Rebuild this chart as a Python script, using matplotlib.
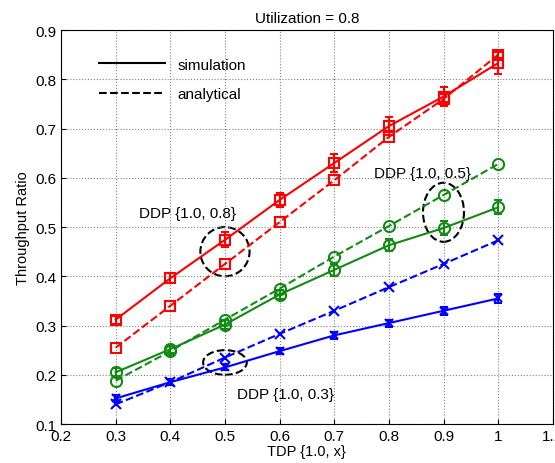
import matplotlib; matplotlib.use('agg')
import matplotlib.pyplot as plt
from matplotlib.patches import Ellipse
from matplotlib.lines import Line2D

plt.rcParams['font.family'] = ['Liberation Sans', 'DejaVu Sans']
plt.rcParams['font.size'] = 10

# Werte
x = [0.3, 0.4, 0.5, 0.6, 0.7, 0.8, 0.9, 1.0]
red_sim = [0.312, 0.396, 0.474, 0.555, 0.630, 0.705, 0.765, 0.833]
red_sim_err = [0.008, 0.010, 0.015, 0.015, 0.018, 0.018, 0.020, 0.022]
red_ana = [0.255, 0.340, 0.425, 0.510, 0.595, 0.683, 0.760, 0.850]
green_sim = [0.205, 0.252, 0.302, 0.363, 0.413, 0.463, 0.498, 0.540]
green_sim_err = [0.008, 0.008, 0.010, 0.010, 0.012, 0.012, 0.014, 0.014]
green_ana = [0.188, 0.248, 0.312, 0.375, 0.440, 0.502, 0.565, 0.628]
blue_sim = [0.152, 0.185, 0.215, 0.248, 0.280, 0.305, 0.330, 0.355]
blue_sim_err = [0.006, 0.006, 0.006, 0.006, 0.007, 0.007, 0.008, 0.009]
blue_ana = [0.140, 0.185, 0.235, 0.283, 0.330, 0.378, 0.425, 0.473]

green = '#138a13'
fig = plt.figure(figsize=(5.55, 4.64), dpi=100)
ax = fig.add_axes([0.11, 0.084, 0.886, 0.849])

ax.errorbar(x, red_sim, yerr=red_sim_err, color='red', marker='s', mfc='none',
            ms=7, mew=1.5, lw=1.5, capsize=3, elinewidth=1.5)
ax.plot(x, red_ana, 'r--', marker='s', mfc='none', ms=7, mew=1.5, lw=1.5)
ax.errorbar(x, green_sim, yerr=green_sim_err, color=green, marker='o', mfc='none',
            ms=8, mew=1.5, lw=1.5, capsize=3, elinewidth=1.5)
ax.plot(x, green_ana, '--', color=green, marker='o', mfc='none', ms=8, mew=1.5, lw=1.5)
ax.errorbar(x, blue_sim, yerr=blue_sim_err, color='blue', marker='x',
            ms=6, mew=1.5, lw=1.5, capsize=3, elinewidth=1.5)
ax.plot(x, blue_ana, 'b--', marker='x', ms=7, mew=1.5, lw=1.5)

# Ellipsen
for c, w, h in [((0.5, 0.45), 0.09, 0.10), ((0.9, 0.53), 0.075, 0.12), ((0.5, 0.225), 0.08, 0.05)]:
    ax.add_patch(Ellipse(c, w, h, fill=False, ls='--', lw=1.5, ec='k'))
ax.text(0.432, 0.528, 'DDP {1.0, 0.8}', ha='center', va='center', fontsize=11)
ax.text(0.862, 0.61, 'DDP {1.0, 0.5}', ha='center', va='center', fontsize=11)
ax.text(0.61, 0.161, 'DDP {1.0, 0.3}', ha='center', va='center', fontsize=11)

handles = [Line2D([], [], color='k', lw=1.5, ls='-'), Line2D([], [], color='k', lw=1.5, ls='--')]
ax.legend(handles, ['simulation', 'analytical'], loc='upper left', frameon=False,
          handlelength=4.3, bbox_to_anchor=(0.05, 0.965), labelspacing=1.0, fontsize=11)

ax.set_xlim(0.2, 1.1)
ax.set_ylim(0.1, 0.9)
ax.set_xticks([0.2, 0.3, 0.4, 0.5, 0.6, 0.7, 0.8, 0.9, 1.0, 1.1])
ax.set_xticklabels(['0.2', '0.3', '0.4', '0.5', '0.6', '0.7', '0.8', '0.9', '1', '1.1'])
ax.tick_params(direction='in', labelsize=11)
ax.grid(ls=':', color='gray', lw=0.8)
ax.set_xlabel('TDP {1.0, x}', labelpad=1, fontsize=10.5)
ax.set_ylabel('Throughput Ratio', fontsize=10.5)
ax.set_title('Utilization = 0.8', fontsize=11)
plt.savefig('out.png')
